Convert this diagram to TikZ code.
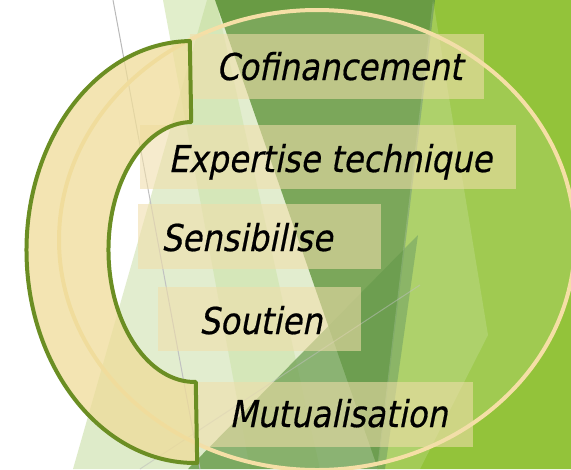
\documentclass[tikz,border=0pt]{standalone}
\usepackage{fontspec}
\newfontfamily\labfont[FakeStretch=0.875,FakeSlant=0.2,FakeBold=0.5]{DejaVu Sans}
\definecolor{brightG}{HTML}{93C33A}
\definecolor{darkG}{HTML}{699B44}
\definecolor{paleB}{HTML}{C9DFA5}
\definecolor{paleA}{HTML}{C4DE98}
\definecolor{midG}{HTML}{538E34}
\definecolor{circC}{HTML}{F5DFA6}
\definecolor{boxC}{HTML}{F0DEAA}
\definecolor{ringC}{HTML}{EFDC99}
\definecolor{ringL}{HTML}{6B8E23}
\begin{document}
\begin{tikzpicture}[x=0.75pt,y=-0.75pt,
  boxst/.style={draw=none, fill=boxC, fill opacity=0.58, inner sep=0pt, anchor=north west},
  lab/.style={anchor=base west, inner sep=0pt, text=black, font=\labfont\fontsize{27.75pt}{33pt}\selectfont},
  ringst/.style={fill=ringC, fill opacity=0.75, draw=ringL, line width=3pt, line join=round},
  circst/.style={fill=white, fill opacity=0.12, draw=circC, draw opacity=1, line width=3pt},
  thin/.style={draw=gray!55, line width=0.75pt}]
\useasboundingbox (0,0) rectangle (571,469);
\clip (0,0) rectangle (571,469);
\fill[white] (0,0) rectangle (571,469);
% background facets
\fill[brightG] (432,0) -- (571,0) -- (571,469) -- (377,469) -- cycle;
\fill[paleB, fill opacity=0.6] (207,0) -- (300,0) -- (378,469) -- (73,469) -- cycle;
\fill[paleA, fill opacity=0.5] (163,0) -- (216,0) -- (320,469) -- (250,469) -- cycle;
\fill[darkG] (215,0) -- (435,0) -- (378,469) -- cycle;
\fill[midG, fill opacity=0.7] (188,469) -- (418,235) -- (385,469) -- cycle;
\fill[white, fill opacity=0.15] (433,0) -- (488,335) -- (420,469) -- (377,469) -- cycle;
\coordinate (l1a) at (113,0);
\coordinate (l1b) at (200,469);
\coordinate (l2a) at (140,469);
\coordinate (l2b) at (420,285);
\draw[thin] (l1a) -- (l1b);
\draw[thin, draw opacity=0.5] (l2a) -- (l2b);
% big circle
\path[circst] (317,240) ellipse [x radius=258, y radius=230];
% boxes
\node[boxst, minimum width=220.5pt, minimum height=48.75pt] (b1) at (190,34) {};
\node[boxst, minimum width=282pt, minimum height=48pt] (b2) at (140,125) {};
\node[boxst, minimum width=182.25pt, minimum height=48.75pt] (b3) at (138,204) {};
\node[boxst, minimum width=152.25pt, minimum height=48pt] (b4) at (158,287) {};
\node[boxst, minimum width=206.25pt, minimum height=48.75pt] (b5) at (198,382) {};
% block arc
\path[ringst, rotate around={1:(193.5,252)}] (193.5,41) arc[start angle=-90, end angle=-270, x radius=167, y radius=211]
  -- (193.5,382) arc[start angle=90, end angle=270, x radius=85, y radius=130] -- cycle;
% labels
\node[lab] (t1) at (216,80) {Cofinancement};
\node[lab] (t2) at (168,172) {Expertise technique};
\node[lab] (t3) at (161,251) {Sensibilise};
\node[lab] (t4) at (199,334) {Soutien};
\node[lab] (t5) at (229,427) {Mutualisation};
\end{tikzpicture}
\end{document}
